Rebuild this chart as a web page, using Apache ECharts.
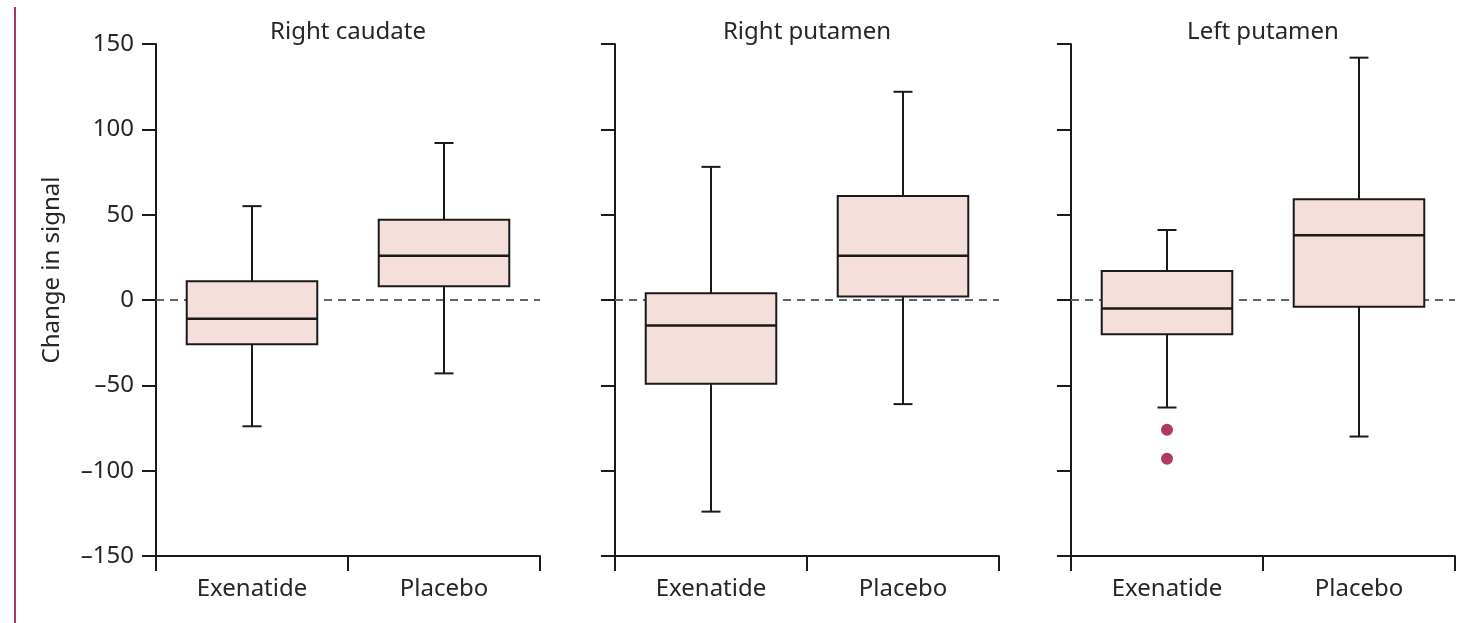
<!DOCTYPE html>
<html>
<head>
<meta charset="utf-8">
<script src="https://cdn.jsdelivr.net/npm/echarts@6/dist/echarts.min.js"></script>
<style>
html,body{margin:0;padding:0;background:#fff;}
#chart{width:1468px;height:623px;}
</style>
</head>
<body>
<div id="chart"></div>
<script>
// ---- data ----
const panelTitles = ['Right caudate', 'Right putamen', 'Left putamen'];
const categories = ['Exenatide', 'Placebo'];
const yTicks = [-150, -100, -50, 0, 50, 100, 150];
// each row: [min, Q1, median, Q3, max]
const rightCaudate = [[-74, -26, -11, 11, 55], [-43, 8, 26, 47, 92]];
const rightPutamen = [[-124, -49, -15, 4, 78], [-61, 2, 26, 61, 122]];
const leftPutamen = [[-63, -20, -5, 17, 41], [-80, -4, 38, 59, 142]];
// outliers: [category index, value]
const rightCaudateOutliers = [];
const rightPutamenOutliers = [];
const leftPutamenOutliers = [[0, -76], [0, -93]];
const yAxisTitle = 'Change in signal';

// ---- layout / style ----
const FONT = 'Noto Sans';
const TEXT = '#262626';
const FS = 24;
const boxes = [rightCaudate, rightPutamen, leftPutamen];
const outliers = [rightCaudateOutliers, rightPutamenOutliers, leftPutamenOutliers];
const gridLefts = [156, 615, 1071];
const gridW = 384, gridTop = 44, gridH = 512;

const grid = [], xAxis = [], yAxis = [], series = [], graphic = [];
gridLefts.forEach((l, i) => {
  grid.push({left: l, top: gridTop, width: gridW, height: gridH, containLabel: false});
  xAxis.push({
    type: 'category', gridIndex: i, data: categories,
    axisLine: {onZero: false, lineStyle: {color: '#1a1a1a', width: 2}},
    axisTick: {show: true, length: 15, lineStyle: {color: '#1a1a1a', width: 2}},
    axisLabel: {fontFamily: FONT, fontSize: FS, color: TEXT, margin: 21},
    splitLine: {show: false}
  });
  yAxis.push({
    type: 'value', gridIndex: i, min: yTicks[0], max: yTicks[yTicks.length - 1], interval: 50,
    axisLine: {show: true, onZero: false, lineStyle: {color: '#1a1a1a', width: 2}},
    axisTick: {show: true, length: 14, lineStyle: {color: '#1a1a1a', width: 2}},
    axisLabel: {show: i === 0, fontFamily: FONT, fontSize: FS, color: TEXT, margin: 22,
      formatter: v => String(v).replace('-', '\u2013')},
    splitLine: {show: false}
  });
  series.push({
    type: 'custom', xAxisIndex: i, yAxisIndex: i, z: 3,
    data: boxes[i].map((b, k) => [k].concat(b)),
    encode: {x: 0, y: [1, 2, 3, 4, 5]},
    renderItem: function (params, api) {
      const c = api.value(0);
      const pMin = api.coord([c, api.value(1)]);
      const pQ1 = api.coord([c, api.value(2)]);
      const pMed = api.coord([c, api.value(3)]);
      const pQ3 = api.coord([c, api.value(4)]);
      const pMax = api.coord([c, api.value(5)]);
      const band = api.size([1, 0])[0];
      const bw = band * 0.68;
      const cap = 19;
      const x = pMed[0];
      const ls = {stroke: '#1a1a1a', lineWidth: 2};
      return {
        type: 'group',
        children: [
          {type: 'line', shape: {x1: x, y1: pMax[1], x2: x, y2: pMin[1]}, style: ls},
          {type: 'line', shape: {x1: x - cap / 2, y1: pMax[1], x2: x + cap / 2, y2: pMax[1]}, style: ls},
          {type: 'line', shape: {x1: x - cap / 2, y1: pMin[1], x2: x + cap / 2, y2: pMin[1]}, style: ls},
          {type: 'rect', shape: {x: x - bw / 2, y: pQ3[1], width: bw, height: pQ1[1] - pQ3[1]},
            style: {fill: '#f4dfda', stroke: '#1a1a1a', lineWidth: 2}},
          {type: 'line', shape: {x1: x - bw / 2, y1: pMed[1], x2: x + bw / 2, y2: pMed[1]},
            style: {stroke: '#1a1a1a', lineWidth: 2.5}}
        ]
      };
    },
    markLine: {
      z: 1, silent: true, symbol: 'none', label: {show: false},
      lineStyle: {color: '#5c6666', type: [8, 6], width: 1.8},
      data: [{yAxis: 0}]
    }
  });
  series.push({
    type: 'scatter', xAxisIndex: i, yAxisIndex: i, z: 4,
    data: outliers[i], symbol: 'circle', symbolSize: 12,
    itemStyle: {color: '#990a33'}
  });
  graphic.push({
    type: 'text', x: l + gridW / 2, y: 32,
    style: {text: panelTitles[i], fontFamily: FONT, fontSize: FS, fill: TEXT,
      align: 'center', verticalAlign: 'middle', textAlign: 'center', textVerticalAlign: 'middle'}
  });
});

graphic.push({
  type: 'text', x: 52, y: 270, rotation: Math.PI / 2,
  style: {text: yAxisTitle, fontFamily: FONT, fontSize: FS, fill: TEXT,
    align: 'center', verticalAlign: 'middle', textAlign: 'center', textVerticalAlign: 'middle'}
});
graphic.push({
  type: 'line', shape: {x1: 15, y1: 7, x2: 15, y2: 623},
  style: {stroke: '#a03862', lineWidth: 2}
});

const chart = echarts.init(document.getElementById('chart'), null, {renderer: 'canvas'});
chart.setOption({
  backgroundColor: '#fff',
  animation: false,
  grid, xAxis, yAxis, series, graphic
});
</script>
</body>
</html>
